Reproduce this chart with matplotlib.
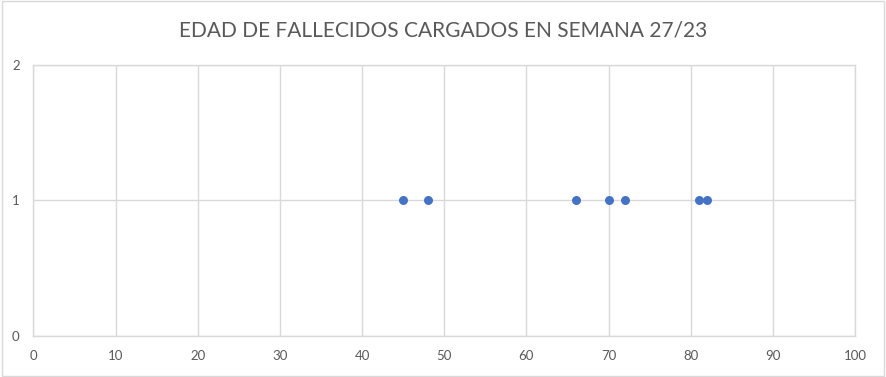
import matplotlib
matplotlib.use('Agg')
import matplotlib.pyplot as plt
from matplotlib.patches import Rectangle

# edades de fallecidos (semana 27/23)
edades = [45, 48, 66, 70, 72, 81, 82]
cantidad = [1, 1, 1, 1, 1, 1, 1]
x_ticks = list(range(0, 101, 10))
y_ticks = [0, 1, 2]

plt.rcParams['font.family'] = ['Lato', 'DejaVu Sans']

fig = plt.figure(figsize=(8.86, 3.77), dpi=100)
ax = fig.add_axes([0.0378, 0.1095, 0.9272, 0.7189])

ax.scatter(edades, cantidad, s=42, color='#4472C4', zorder=3, linewidths=0)

ax.set_xlim(0, 100)
ax.set_ylim(0, 2)
ax.set_xticks(x_ticks)
ax.set_yticks(y_ticks)
ax.grid(True, color='#d9d9d9', linewidth=1)
ax.set_axisbelow(True)
for s in ax.spines.values():
    s.set_color('#d9d9d9')
    s.set_linewidth(1)
ax.tick_params(length=0, labelsize=9.5, labelcolor='#595959', pad=10)

fig.text(0.5, 0.92, 'EDAD DE FALLECIDOS CARGADOS EN SEMANA 27/23',
         ha='center', va='center', fontsize=15, color='#595959')

# borde del grafico
fig.patches.append(Rectangle((0.002, 0.003), 0.996, 0.994, transform=fig.transFigure,
                             fill=False, edgecolor='#d9d9d9', linewidth=1))

fig.savefig('out.png', dpi=100)
